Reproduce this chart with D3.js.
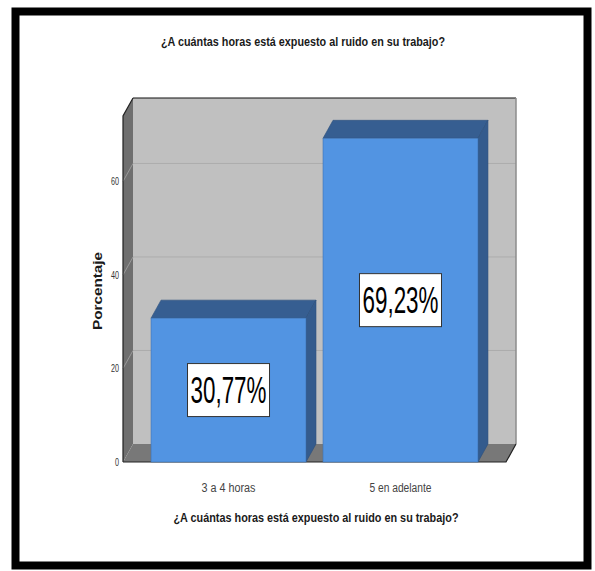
<!DOCTYPE html>
<html>
<head>
<meta charset="utf-8">
<script src="https://cdn.jsdelivr.net/npm/d3@7"></script>
<style>
  html, body { margin: 0; padding: 0; background: #ffffff; }
  svg { display: block; }
</style>
</head>
<body>
<div id="chart"></div>
<script>
// Exposure hours to noise at work (percent of respondents)
const categories = ["3 a 4 horas", "5 en adelante"];
const percentages = [30.77, 69.23];
const valueLabels = ["30,77%", "69,23%"];
const yTicks = [0, 20, 40, 60];
const chartTitle = "¿A cuántas horas está expuesto al ruido en su trabajo?";
const xTitle = "¿A cuántas horas está expuesto al ruido en su trabajo?";
const yTitle = "Porcentaje";

const W = 595, H = 571;
const svg = d3.select("#chart").append("svg")
  .attr("width", W).attr("height", H);

// Outer frame
svg.append("rect")
  .attr("x", 15.5).attr("y", 11.5)
  .attr("width", 572).attr("height", 554)
  .attr("fill", "#ffffff")
  .attr("stroke", "#000000").attr("stroke-width", 8);

// 3D plot box: front plane + depth offset
const front = { left: 123, right: 506, bottom: 462, top: 116 };
const dx = 10, dy = -18;

const y = d3.scaleLinear().domain([0, 74]).range([front.bottom, front.top]);
const x = d3.scaleBand().domain(categories)
  .range([front.left, front.right])
  .paddingInner(0.099).paddingOuter(0.163);

const g = svg.append("g");
const poly = pts => pts.map(p => p.join(",")).join(" ");

// Back wall
g.append("polygon")
  .attr("points", poly([
    [front.left + dx, front.top + dy], [front.right + dx, front.top + dy],
    [front.right + dx, front.bottom + dy], [front.left + dx, front.bottom + dy]]))
  .attr("fill", "#c0c0c0");

// Left side wall
g.append("polygon")
  .attr("points", poly([
    [front.left, front.top], [front.left + dx, front.top + dy],
    [front.left + dx, front.bottom + dy], [front.left, front.bottom]]))
  .attr("fill", "#6f6f6f");

// Floor
g.append("polygon")
  .attr("points", poly([
    [front.left, front.bottom], [front.left + dx, front.bottom + dy],
    [front.right + dx, front.bottom + dy], [front.right, front.bottom]]))
  .attr("fill", "#787878");

// Gridlines on back wall and side wall
const grid = yTicks.filter(v => v > 0);
g.selectAll(".gridBack").data(grid).join("line")
  .attr("x1", front.left + dx).attr("x2", front.right + dx)
  .attr("y1", d => y(d) + dy).attr("y2", d => y(d) + dy)
  .attr("stroke", "#acacac").attr("stroke-width", 1);
g.selectAll(".gridSide").data(grid).join("line")
  .attr("x1", front.left).attr("x2", front.left + dx)
  .attr("y1", d => y(d)).attr("y2", d => y(d) + dy)
  .attr("stroke", "#9a9a9a").attr("stroke-width", 1);

// Box edges
g.append("line")
  .attr("x1", front.left + dx).attr("x2", front.right + dx)
  .attr("y1", front.top + dy).attr("y2", front.top + dy)
  .attr("stroke", "#111").attr("stroke-width", 1.2);
g.append("line")
  .attr("x1", front.right + dx).attr("x2", front.right + dx)
  .attr("y1", front.top + dy).attr("y2", front.bottom + dy)
  .attr("stroke", "#8c8c8c").attr("stroke-width", 1.5);
g.append("polyline")
  .attr("points", poly([[front.left, front.bottom], [front.left, front.top], [front.left + dx, front.top + dy]]))
  .attr("fill", "none").attr("stroke", "#222").attr("stroke-width", 1.2);
g.append("polyline")
  .attr("points", poly([[front.left, front.bottom], [front.right, front.bottom], [front.right + dx, front.bottom + dy]]))
  .attr("fill", "none").attr("stroke", "#222").attr("stroke-width", 1.2);

// Bars
const data = categories.map((c, i) => ({ c, v: percentages[i], label: valueLabels[i] }));
const bars = g.selectAll(".bar").data(data).join("g");

bars.append("polygon") // top face
  .attr("points", d => {
    const x0 = x(d.c), x1 = x(d.c) + x.bandwidth(), yt = y(d.v);
    return poly([[x0, yt], [x0 + dx, yt + dy], [x1 + dx, yt + dy], [x1, yt]]);
  })
  .attr("fill", "#365e91").attr("stroke", "#2c4f7c").attr("stroke-width", 0.6);

bars.append("polygon") // right side face
  .attr("points", d => {
    const x1 = x(d.c) + x.bandwidth(), yt = y(d.v), yb = y(0);
    return poly([[x1, yt], [x1 + dx, yt + dy], [x1 + dx, yb + dy], [x1, yb]]);
  })
  .attr("fill", "#345b8d").attr("stroke", "#2c4f7c").attr("stroke-width", 0.6);

bars.append("rect") // front face
  .attr("x", d => x(d.c)).attr("y", d => y(d.v))
  .attr("width", x.bandwidth()).attr("height", d => y(0) - y(d.v))
  .attr("fill", "#5294e2").attr("stroke", "#3f74b3").attr("stroke-width", 0.6);

// Value labels in boxes at the middle of each bar
const boxW = 82, boxH = 53;
bars.append("rect")
  .attr("x", d => x(d.c) + x.bandwidth() / 2 - boxW / 2)
  .attr("y", d => (y(d.v) + y(0)) / 2 - boxH / 2)
  .attr("width", boxW).attr("height", boxH)
  .attr("fill", "#ffffff").attr("stroke", "#333").attr("stroke-width", 1);
bars.append("text")
  .attr("x", d => x(d.c) + x.bandwidth() / 2)
  .attr("y", d => (y(d.v) + y(0)) / 2 + 13)
  .attr("text-anchor", "middle")
  .attr("font-family", "Liberation Sans, Arial, sans-serif")
  .attr("font-size", 37)
  .attr("textLength", 76).attr("lengthAdjust", "spacingAndGlyphs")
  .attr("fill", "#000")
  .text(d => d.label);

// Y axis (front plane)
const yAxis = d3.axisLeft(y).tickValues(yTicks).tickSize(0).tickPadding(0).tickFormat(d3.format("d"));
const ya = svg.append("g").attr("transform", `translate(${front.left - 4},0)`).call(yAxis);
ya.select(".domain").remove();
ya.selectAll("text")
  .attr("font-family", "Liberation Sans, Arial, sans-serif")
  .attr("font-size", 10).attr("fill", "#333")
  .attr("textLength", d => d >= 10 ? 8 : 4).attr("lengthAdjust", "spacingAndGlyphs");

// Category labels
const xa = svg.append("g").attr("transform", `translate(0,${front.bottom})`)
  .call(d3.axisBottom(x).tickSize(0).tickPadding(0));
xa.select(".domain").remove();
xa.selectAll("text")
  .attr("y", 21)
  .attr("font-family", "Liberation Sans, Arial, sans-serif")
  .attr("font-size", 12).attr("fill", "#444")
  .attr("textLength", d => d === categories[0] ? 54 : 62).attr("lengthAdjust", "spacingAndGlyphs");

// Titles
svg.append("text")
  .attr("x", 303).attr("y", 46).attr("text-anchor", "middle")
  .attr("font-family", "Liberation Sans, Arial, sans-serif")
  .attr("font-weight", "bold").attr("font-size", 13).attr("fill", "#1a1a1a")
  .attr("textLength", 284).attr("lengthAdjust", "spacingAndGlyphs")
  .text(chartTitle);

svg.append("text")
  .attr("x", 316).attr("y", 522).attr("text-anchor", "middle")
  .attr("font-family", "Liberation Sans, Arial, sans-serif")
  .attr("font-weight", "bold").attr("font-size", 13).attr("fill", "#1a1a1a")
  .attr("textLength", 285).attr("lengthAdjust", "spacingAndGlyphs")
  .text(xTitle);

svg.append("text")
  .attr("transform", "translate(102,291) rotate(-90)")
  .attr("text-anchor", "middle")
  .attr("font-family", "Liberation Sans, Arial, sans-serif")
  .attr("font-weight", "bold").attr("font-size", 12).attr("fill", "#1a1a1a")
  .attr("textLength", 78).attr("lengthAdjust", "spacingAndGlyphs")
  .text(yTitle);
</script>
</body>
</html>
